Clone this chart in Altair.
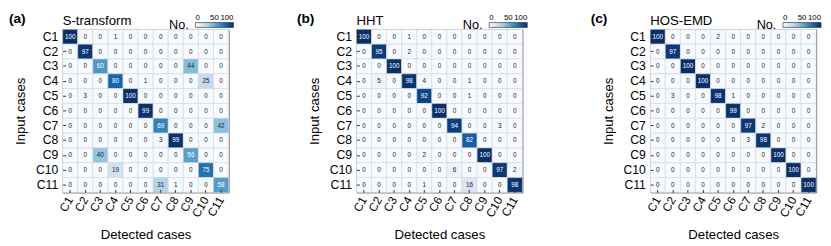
import altair as alt
import pandas as pd

cases = [f"C{i}" for i in range(1, 12)]
panel_letters = ["(a)", "(b)", "(c)"]
panel_names = ["S-transform", "HHT", "HOS-EMD"]

s_transform = [
    [100, 0, 0, 1, 0, 0, 0, 0, 0, 0, 0],
    [0, 97, 0, 0, 0, 0, 0, 0, 0, 0, 0],
    [0, 0, 60, 0, 0, 0, 0, 0, 44, 0, 0],
    [0, 0, 0, 80, 0, 1, 0, 0, 0, 25, 0],
    [0, 3, 0, 0, 100, 0, 0, 0, 0, 0, 0],
    [0, 0, 0, 0, 0, 99, 0, 0, 0, 0, 0],
    [0, 0, 0, 0, 0, 0, 69, 0, 0, 0, 42],
    [0, 0, 0, 0, 0, 0, 3, 99, 0, 0, 0],
    [0, 0, 40, 0, 0, 0, 0, 0, 56, 0, 0],
    [0, 0, 0, 19, 0, 0, 0, 0, 0, 75, 0],
    [0, 0, 0, 0, 0, 0, 31, 1, 0, 0, 58],
]
hht = [
    [100, 0, 0, 1, 0, 0, 0, 0, 0, 0, 0],
    [0, 95, 0, 2, 0, 0, 0, 0, 0, 0, 0],
    [0, 0, 100, 0, 0, 0, 0, 0, 0, 0, 0],
    [0, 5, 0, 98, 4, 0, 0, 1, 0, 0, 0],
    [0, 0, 0, 0, 92, 0, 0, 1, 0, 0, 0],
    [0, 0, 0, 0, 0, 100, 0, 0, 0, 0, 0],
    [0, 0, 0, 0, 0, 0, 94, 0, 0, 3, 0],
    [0, 0, 0, 0, 0, 0, 0, 82, 0, 0, 0],
    [0, 0, 0, 0, 2, 0, 0, 0, 100, 0, 0],
    [0, 0, 0, 0, 0, 0, 6, 0, 0, 97, 2],
    [0, 0, 0, 0, 1, 0, 0, 16, 0, 0, 98],
]
hos_emd = [
    [100, 0, 0, 0, 2, 0, 0, 0, 0, 0, 0],
    [0, 97, 0, 0, 0, 0, 0, 0, 0, 0, 0],
    [0, 0, 100, 0, 0, 0, 0, 0, 0, 0, 0],
    [0, 0, 0, 100, 0, 0, 0, 0, 0, 0, 0],
    [0, 3, 0, 0, 98, 1, 0, 0, 0, 0, 0],
    [0, 0, 0, 0, 0, 99, 0, 0, 0, 0, 0],
    [0, 0, 0, 0, 0, 0, 97, 2, 0, 0, 0],
    [0, 0, 0, 0, 0, 0, 3, 98, 0, 0, 0],
    [0, 0, 0, 0, 0, 0, 0, 0, 100, 0, 0],
    [0, 0, 0, 0, 0, 0, 0, 0, 0, 100, 0],
    [0, 0, 0, 0, 0, 0, 0, 0, 0, 0, 100],
]
matrices = [s_transform, hht, hos_emd]
legend_values = [0, 50, 100]

blues = ["#f7fbff", "#deebf7", "#c6dbef", "#9ecae1", "#6baed6",
         "#4292c6", "#2171b5", "#08519c", "#08306b"]

FONT = "Liberation Sans"
W, H = 170, 167


def panel(matrix, letter, name, letter_dx):
    rows = []
    for i, r in enumerate(cases):
        for j, c in enumerate(cases):
            rows.append({"input": r, "detected": c, "n": matrix[i][j]})
    df = pd.DataFrame(rows)

    base = alt.Chart(df).encode(
        x=alt.X("detected:N", sort=cases,
                scale=alt.Scale(paddingInner=0, paddingOuter=0),
                axis=alt.Axis(title="Detected cases", labelAngle=300,
                              labelFontSize=12, titleFontSize=13.5,
                              titleFontWeight="normal", domain=False,
                              offset=-3, tickSize=3, tickColor="#333",
                              labelPadding=5, titlePadding=9,
                              labelColor="black", titleColor="black")),
        y=alt.Y("input:N", sort=cases,
                scale=alt.Scale(paddingInner=0, paddingOuter=0),
                axis=alt.Axis(title="Input cases", labelFontSize=12.5,
                              titleFontSize=13.5, titleFontWeight="normal",
                              domain=False, offset=-3, tickSize=3,
                              tickColor="#333", labelPadding=5,
                              titlePadding=8, labelColor="black",
                              titleColor="black")),
    )
    rect = base.mark_rect(stroke="#d2d6dc", strokeWidth=0.6).encode(
        color=alt.Color("n:Q",
                        scale=alt.Scale(domain=[0, 100], range=blues),
                        legend=alt.Legend(
                            title="No.", orient="none", legendX=109,
                            legendY=-7, direction="horizontal",
                            gradientLength=39, gradientThickness=5,
                            gradientStrokeColor="#222",
                            gradientStrokeWidth=0.6,
                            titleOrient="left", titleFontSize=13,
                            titleFontWeight="normal", titlePadding=6,
                            titleColor="black",
                            labelFontSize=8, labelOffset={"expr": "-14"},
                            labelColor="black",
                            labelOverlap=False,
                            values=legend_values))
    )
    text = base.mark_text(fontSize=6.5, font=FONT).encode(
        text="n:Q",
        color=alt.condition(alt.datum.n > 50, alt.value("white"),
                            alt.value("#222")),
    )
    label = alt.Chart(pd.DataFrame({"name": [name]})).mark_text(
        align="left", baseline="alphabetic", fontSize=13.5, font=FONT,
        color="black"
    ).encode(x=alt.value(0), y=alt.value(-4), text="name:N")

    return alt.layer(rect, text, label).properties(
        width=W, height=H,
        title=alt.TitleParams(letter, anchor="start", frame="group",
                              dx=letter_dx, fontSize=14, fontWeight="bold",
                              font=FONT, color="black", offset=-11),
    )


letter_dxs = [-55, -61, -61]
panels = [panel(m, l, n, d) for m, l, n, d in
          zip(matrices, panel_letters, panel_names, letter_dxs)]

chart = alt.hconcat(*panels, spacing=62).resolve_scale(
    color="independent", x="independent", y="independent"
).resolve_legend(color="independent").properties(
    padding={"left": 0, "top": 0, "right": 0, "bottom": 0}
).configure_view(stroke="#555", strokeWidth=1).configure_axis(
    labelFont=FONT, titleFont=FONT
).configure_legend(labelFont=FONT, titleFont=FONT).configure_title(font=FONT)

chart.save("out.html", embed_options={"renderer": "svg", "actions": False})
